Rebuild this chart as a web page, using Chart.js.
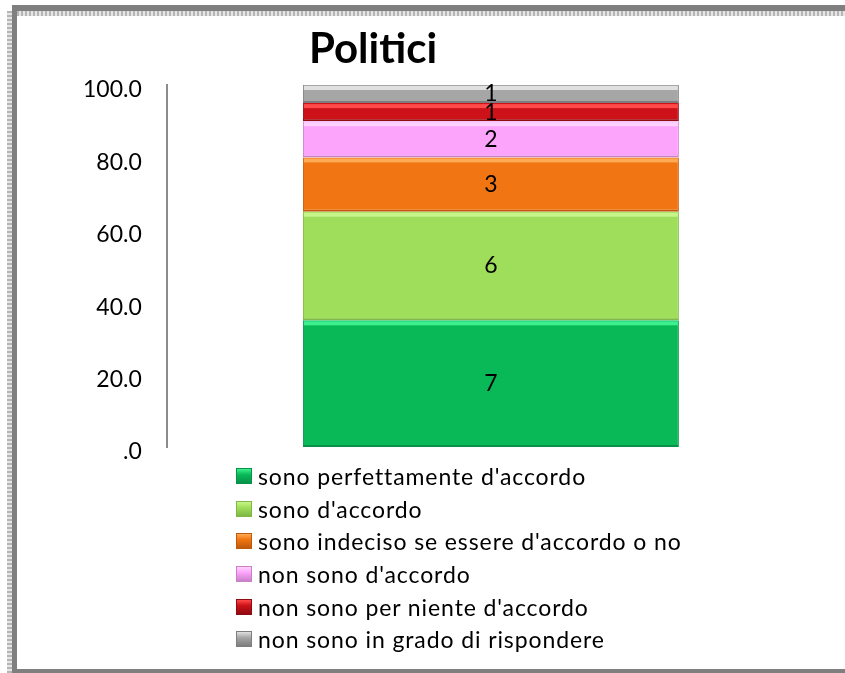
<!DOCTYPE html>
<html>
<head>
  <title>Politici</title>
  <script src="https://cdn.jsdelivr.net/npm/chart.js"></script>
  <style>
    html, body { margin: 0; padding: 0; background: #fff; }
    #wrap { position: relative; width: 845px; height: 673px; overflow: hidden; }
    #chart { position: absolute; left: 0; top: 0; }
    /* frame around the chart, like the spreadsheet object border */
    .edge { position: absolute; }
    #gTop { left: 12px; top: 5px; width: 840px; height: 6px; background: #7f7f7f; }
    #pTop { left: 17px; top: 11px; width: 840px; height: 5px;
            background: repeating-linear-gradient(90deg, #b5b5b5 0 2px, #e6e6e6 2px 4px); }
    #pLeft { left: 7px; top: 11px; width: 5px; height: 662px;
             background: repeating-linear-gradient(0deg, #b5b5b5 0 2px, #e6e6e6 2px 4px); }
    #gLeft { left: 12px; top: 5px; width: 5px; height: 668px; background: #7f7f7f; }
    #gBottom { left: 12px; top: 669px; width: 840px; height: 4px; background: #7f7f7f; }
    #legend { position: absolute; left: 236px; top: 460px;
              font-family: Lato, sans-serif; font-size: 23px; letter-spacing: 0.9px; color: #000; }
    #legend .item { height: 32.6px; display: flex; align-items: center; white-space: nowrap; }
    #legend .box { width: 16px; height: 16px; margin-right: 6px; box-sizing: border-box; }
  </style>
</head>
<body>
  <div id="wrap">
    <canvas id="chart" width="845" height="673"></canvas>
    <div class="edge" id="gTop"></div>
    <div class="edge" id="pTop"></div>
    <div class="edge" id="pLeft"></div>
    <div class="edge" id="gLeft"></div>
    <div class="edge" id="gBottom"></div>
    <div id="legend"></div>
  </div>

  <script>
    // data
    const chartTitle = 'Politici';
    const categories = ['Politici'];
    const seriesNames = [
      'sono perfettamente d\'accordo',
      'sono d\'accordo',
      'sono indeciso se essere d\'accordo o no',
      'non sono d\'accordo',
      'non sono per niente d\'accordo',
      'non sono in grado di rispondere'
    ];
    const percentValues = [35, 30, 15, 10, 5, 5];   // stacked height, %
    const countValues = [7, 6, 3, 2, 1, 1];          // numbers printed in the bar

    const fillColors = ['#09b957', '#9fde5a', '#f17512', '#fca4fc', '#cc1118', '#a6a6a6'];
    const edgeColors = ['#07924a', '#7fb845', '#bf5a0c', '#c980c9', '#8e0b10', '#7d7d7d'];
    const lightColors = ['#3ff08e', '#c8f58a', '#ffaa55', '#ffd2ff', '#ff4a4a', '#e0e0e0'];

    const datasets = seriesNames.map((name, i) => ({
      label: name,
      data: [percentValues[i]],
      counts: [countValues[i]],
      backgroundColor: fillColors[i],
      borderColor: edgeColors[i],
      borderWidth: { top: 0, bottom: 2, left: 1, right: 1 },
      borderSkipped: false,
      highlight: lightColors[i]
    }));

    // bevel-ish highlight on top of each segment + the count label in the middle
    const segmentLabels = {
      id: 'segmentLabels',
      afterDatasetsDraw(chart) {
        const ctx = chart.ctx;
        ctx.save();
        chart.data.datasets.forEach((ds, i) => {
          const meta = chart.getDatasetMeta(i);
          meta.data.forEach((bar, j) => {
            const top = Math.min(bar.y, bar.base);
            const h = Math.abs(bar.base - bar.y);
            const left = bar.x - bar.width / 2;
            ctx.fillStyle = ds.highlight;
            ctx.fillRect(left + 1, top + 1, bar.width - 2, Math.min(4, h / 4));
            ctx.fillStyle = '#000';
            ctx.font = '23px Lato, sans-serif';
            ctx.textAlign = 'center';
            ctx.textBaseline = 'middle';
            ctx.fillText(String(ds.counts[j]), bar.x, top + h / 2);
          });
        });
        ctx.restore();
      }
    };

    const titleText = {
      id: 'titleText',
      afterDraw(chart) {
        const ctx = chart.ctx;
        ctx.save();
        ctx.font = 'bold 42px Lato, sans-serif';
        ctx.fillStyle = '#000';
        ctx.textAlign = 'center';
        ctx.textBaseline = 'alphabetic';
        ctx.fillText(chartTitle, 373, 63);
        ctx.restore();
      }
    };

    const chart = new Chart(document.getElementById('chart').getContext('2d'), {
      type: 'bar',
      data: { labels: categories, datasets: datasets },
      options: {
        responsive: false,
        animation: false,
        layout: { padding: { left: 58, top: 85, right: 30, bottom: 226 } },
        plugins: {
          legend: { display: false },
          tooltip: { enabled: false }
        },
        datasets: { bar: { categoryPercentage: 1, barPercentage: 0.58 } },
        scales: {
          x: { stacked: true, display: false },
          y: {
            stacked: true,
            min: 0,
            max: 100,
            grid: { display: false, drawTicks: false, tickLength: 0 },
            border: { display: true, color: '#8c8c8c', width: 2 },
            ticks: {
              stepSize: 20,
              padding: 25,
              labelOffset: 5,
              color: '#000',
              font: { family: 'Lato, sans-serif', size: 23 },
              callback: v => v === 0 ? '.0' : v.toFixed(1)
            }
          }
        }
      },
      plugins: [segmentLabels, titleText]
    });

    // vertical legend under the plot, built from the chart's datasets
    const legendEl = document.getElementById('legend');
    chart.data.datasets.forEach(ds => {
      const row = document.createElement('div');
      row.className = 'item';
      const box = document.createElement('span');
      box.className = 'box';
      box.style.background = `linear-gradient(${ds.highlight}, ${ds.backgroundColor} 40%, ${ds.borderColor})`;
      box.style.border = `1px solid ${ds.borderColor}`;
      const txt = document.createElement('span');
      txt.textContent = ds.label;
      row.appendChild(box);
      row.appendChild(txt);
      legendEl.appendChild(row);
    });
  </script>
</body>
</html>
